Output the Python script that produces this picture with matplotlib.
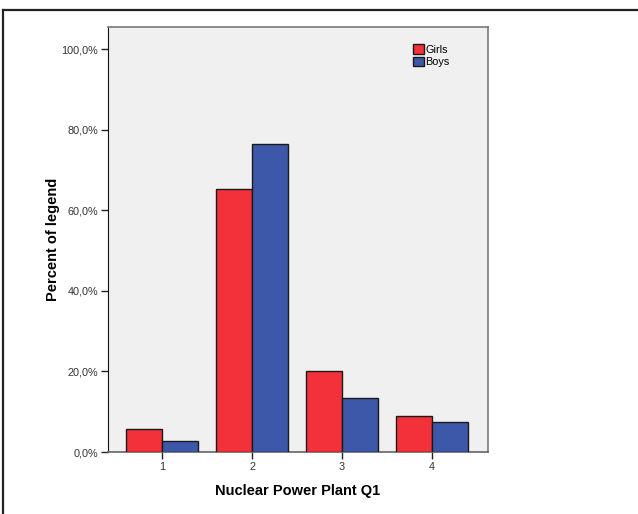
import matplotlib.pyplot as plt
from matplotlib.lines import Line2D
from matplotlib.ticker import FuncFormatter
import numpy as np

plt.rcParams['font.family'] = ['Liberation Sans', 'DejaVu Sans']

categories = ['1', '2', '3', '4']
girls = [5.8, 65.3, 20.0, 8.9]
boys = [2.7, 76.4, 13.4, 7.5]

fig = plt.figure(figsize=(6.38, 5.14), dpi=100)
ax = fig.add_axes([108 / 638, 62 / 514, 380 / 638, 425 / 514])
ax.set_facecolor('#f0f0f0')

x = np.arange(1, len(categories) + 1)
w = 0.4
ax.bar(x - w / 2, girls, w, color='#f2313b', edgecolor='#1a1a1a', linewidth=1, label='Girls', zorder=3)
ax.bar(x + w / 2, boys, w, color='#3d57a9', edgecolor='#1a1a1a', linewidth=1, label='Boys', zorder=3)

ax.set_xlim(0.4, 4.62)
ax.set_ylim(0, 105.5)
ax.set_xticks(x)
ax.set_xticklabels(categories)
ax.set_yticks([0, 20, 40, 60, 80, 100])
ax.yaxis.set_major_formatter(FuncFormatter(lambda v, p: ('%.1f%%' % v).replace('.', ',')))
ax.tick_params(axis='both', length=5, width=1, color='#222222', labelsize=7.8, labelcolor='#333333', pad=2)

for s in ['top', 'right']:
    ax.spines[s].set_color('#7a7a7a')
    ax.spines[s].set_linewidth(1.2)
ax.spines['left'].set_color('#111111')
ax.spines['bottom'].set_color('#666666')
ax.spines['bottom'].set_linewidth(1.2)

ax.set_xlabel('Nuclear Power Plant Q1', fontsize=10.5, fontweight='bold', labelpad=9)
ax.set_ylabel('Percent of legend', fontsize=10.5, fontweight='bold', labelpad=1)

ax.legend(loc='upper left', bbox_to_anchor=(0.802, 0.96), frameon=False, fontsize=7.8,
          handlelength=1.0, handleheight=1.0, handletextpad=0.15, labelspacing=0.2,
          borderaxespad=0, borderpad=0)

# outer frame (top and left edges)
fig.add_artist(Line2D([3 / 638, 1], [1 - 10 / 514, 1 - 10 / 514], color='#222222', linewidth=1.6))
fig.add_artist(Line2D([3 / 638, 3 / 638], [0, 1 - 10 / 514], color='#222222', linewidth=1.6))

fig.savefig('out.png', dpi=100)
